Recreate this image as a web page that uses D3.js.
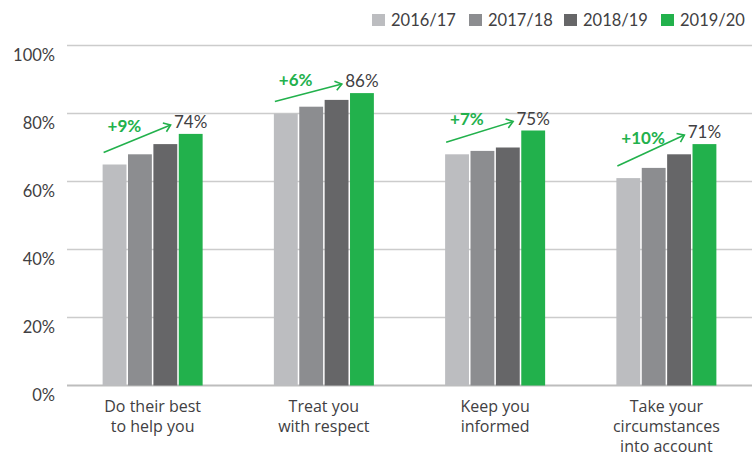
<!DOCTYPE html>
<html>
<head>
<meta charset="utf-8">
<script src="https://cdn.jsdelivr.net/npm/d3@7"></script>
<style>
  html, body { margin: 0; padding: 0; background: #fff; }
  svg { display: block; font-family: "Lato", "Open Sans", sans-serif; }
</style>
</head>
<body>
<svg id="chart" width="752" height="457"></svg>
<script>
// Survey categories (multi-line axis labels)
const categories = ["Do their best to help you", "Treat you with respect", "Keep you informed", "Take your circumstances into account"];
const categoryLines = [
  ["Do their best", "to help you"],
  ["Treat you", "with respect"],
  ["Keep you", "informed"],
  ["Take your", "circumstances", "into account"]
];
const years = ["2016/17", "2017/18", "2018/19", "2019/20"];
const yearColors = ["#bcbdc0", "#8c8d90", "#666668", "#22b14c"];

// Percentage values by year
const values2016 = [65, 80, 68, 61];
const values2017 = [68, 82, 69, 64];
const values2018 = [71, 84, 70, 68];
const values2019 = [74, 86, 75, 71];
const seriesValues = [values2016, values2017, values2018, values2019];

const yTicks = [0, 20, 40, 60, 80, 100];

const svg = d3.select("#chart");
const green = "#22b14c";
const textColor = "#414042";

const x = d3.scaleBand().domain(categories).range([67, 752])
  .paddingInner(0.416).paddingOuter(0.208);
const xi = d3.scaleBand().domain(years).range([0, x.bandwidth()]).paddingInner(0.06);
const y = d3.scaleLinear().domain([0, 100]).range([385.5, 45.5]);

// Gridlines and y labels
const yAxis = d3.axisLeft(y).tickValues(yTicks).tickSize(0).tickFormat(d => d + "%");
const yg = svg.append("g").attr("transform", "translate(67,0)").call(yAxis);
yg.select(".domain").remove();
yg.selectAll("text")
  .attr("x", -12).attr("dy", "0.9em")
  .attr("fill", textColor).style("font-size", "16.5px").style("font-family", "Lato, sans-serif");

svg.append("g").selectAll("line").data(yTicks).join("line")
  .attr("x1", 67).attr("x2", 752)
  .attr("y1", d => y(d)).attr("y2", d => y(d))
  .attr("stroke", d => d === 0 ? "#bdbdbd" : "#cccccc")
  .attr("stroke-width", d => d === 0 ? 2 : 1.5);

// Bars
const groups = svg.append("g").selectAll("g").data(categories).join("g")
  .attr("transform", d => `translate(${x(d)},0)`);

groups.selectAll("rect")
  .data((c, ci) => years.map((yr, si) => ({ yr, si, v: seriesValues[si][ci] })))
  .join("rect")
  .attr("x", d => xi(d.yr))
  .attr("width", xi.bandwidth())
  .attr("y", d => y(d.v))
  .attr("height", d => y(0) - y(d.v))
  .attr("fill", d => yearColors[d.si]);

// Latest-year value label
groups.append("text")
  .attr("x", xi(years[3]) + xi.bandwidth() / 2)
  .attr("y", (c, ci) => y(values2019[ci]) - 6)
  .attr("text-anchor", "middle")
  .attr("fill", textColor)
  .style("font-size", "17px")
  .text((c, ci) => values2019[ci] + "%");

// Change arrows from first to latest year
groups.each(function (c, ci) {
  const g = d3.select(this);
  const x0 = xi(years[0]) + 1;
  const y0 = y(values2016[ci]) - 12;
  const x1 = x0 + 67;
  const y1 = y(values2019[ci]) - 9;
  g.append("line")
    .attr("x1", x0).attr("y1", y0).attr("x2", x1).attr("y2", y1)
    .attr("stroke", green).attr("stroke-width", 1.6);
  const ang = Math.atan2(y1 - y0, x1 - x0);
  const len = 8, spread = Math.PI / 5;
  const p1 = [x1 - len * Math.cos(ang - spread), y1 - len * Math.sin(ang - spread)];
  const p2 = [x1 - len * Math.cos(ang + spread), y1 - len * Math.sin(ang + spread)];
  g.append("path")
    .attr("d", `M${p1[0]},${p1[1]}L${x1},${y1}L${p2[0]},${p2[1]}`)
    .attr("fill", "none").attr("stroke", green).attr("stroke-width", 1.6);
  const diff = values2019[ci] - values2016[ci];
  g.append("text")
    .attr("x", x0 + 4)
    .attr("y", (y0 + y1) / 2 - 7)
    .attr("fill", green)
    .style("font-size", "17px").style("font-weight", "700")
    .text("+" + diff + "%");
});

// Category labels
const cl = svg.append("g").selectAll("text").data(categories).join("text")
  .attr("x", d => x(d) + x.bandwidth() / 2)
  .attr("y", 412)
  .attr("text-anchor", "middle")
  .attr("fill", textColor)
  .style("font-family", "'Open Sans', sans-serif")
  .style("font-size", "16px");
cl.selectAll("tspan").data((d, i) => categoryLines[i]).join("tspan")
  .attr("x", function () { return d3.select(this.parentNode).attr("x"); })
  .attr("dy", (d, i) => i === 0 ? 0 : 20)
  .text(d => d);

// Legend
const legendX = [372, 469, 564, 661];
const legend = svg.append("g").selectAll("g").data(years).join("g")
  .attr("transform", (d, i) => `translate(${legendX[i]},14)`);
legend.append("rect").attr("width", 13).attr("height", 12)
  .attr("fill", (d, i) => yearColors[i]);
legend.append("text").attr("x", 19).attr("y", 12)
  .attr("fill", textColor).style("font-size", "16.5px")
  .text(d => d);
</script>
</body>
</html>
